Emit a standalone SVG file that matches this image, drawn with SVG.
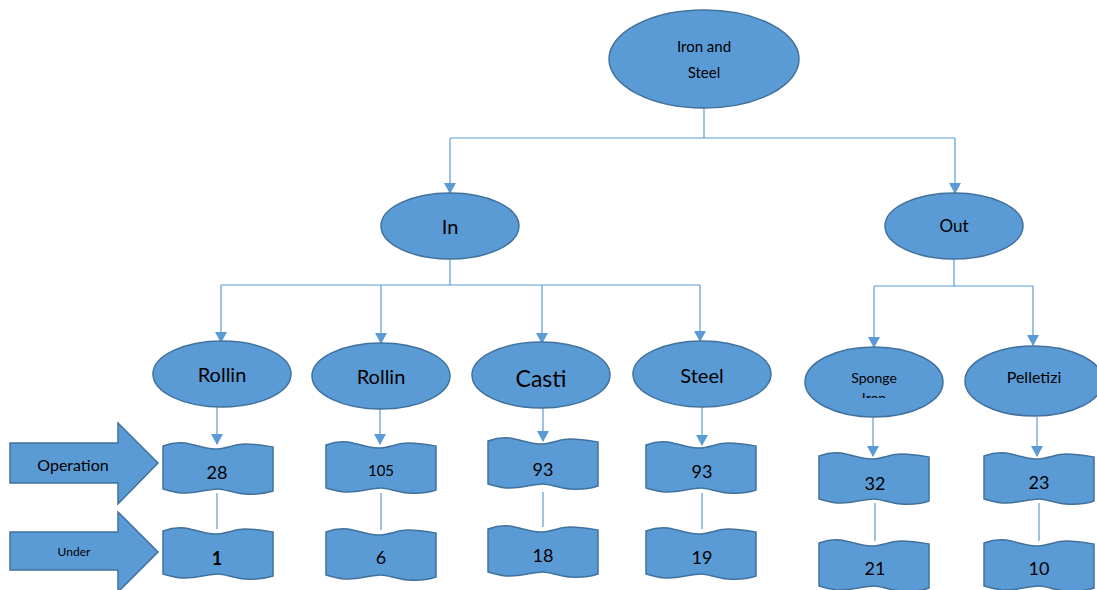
<svg xmlns="http://www.w3.org/2000/svg" width="1097" height="590" viewBox="0 0 1097 590">
<style>
.sh{fill:#5B9BD5;stroke:#41719C;stroke-width:1.5}
.cn{fill:none;stroke:#5B9BD5;stroke-width:1.2}
.t{font-family:Lato,"Open Sans",sans-serif;fill:#000;text-anchor:middle}
</style>
<defs>
<marker id="ah" markerWidth="12" markerHeight="12" refX="10" refY="6" orient="auto" markerUnits="userSpaceOnUse">
<path d="M0,0 L11,6 L0,12 Z" fill="#5B9BD5"/>
</marker>
<symbol id="wave" viewBox="0 0 110 50" width="110" height="50" overflow="visible">
<path class="sh" d="M0,3 C8,0 14,-1 22,0 C34,2 42,6 52,6 C63,6 72,1 82,1 C94,1 104,3 110,4 L110,48 C104,50 96,52 82,51 C70,50 62,46 55,46 C46,46 34,50 22,50 C12,50 5,47 0,46 Z"/>
</symbol>
<clipPath id="spc"><rect x="800" y="340" width="150" height="58"/></clipPath>
</defs>
<rect width="1097" height="590" fill="#fff"/>
<g id="connectors">
<path class="cn" d="M704,108 V138 M450,138 H955"/>
<path class="cn" marker-end="url(#ah)" d="M450,138 V193"/>
<path class="cn" marker-end="url(#ah)" d="M955,138 V193"/>
<path class="cn" d="M450,260 V285 M221,285 H700"/>
<path class="cn" marker-end="url(#ah)" d="M221,285 V342"/>
<path class="cn" marker-end="url(#ah)" d="M381,285 V343"/>
<path class="cn" marker-end="url(#ah)" d="M542,285 V343"/>
<path class="cn" marker-end="url(#ah)" d="M700,285 V341"/>
<path class="cn" d="M954,259 V286 M874,286 H1033"/>
<path class="cn" marker-end="url(#ah)" d="M874,286 V347"/>
<path class="cn" marker-end="url(#ah)" d="M1033,286 V345"/>
<path class="cn" marker-end="url(#ah)" d="M217,407 V444"/>
<path class="cn" marker-end="url(#ah)" d="M380,409 V444"/>
<path class="cn" marker-end="url(#ah)" d="M543,407 V441"/>
<path class="cn" marker-end="url(#ah)" d="M702,407 V445"/>
<path class="cn" marker-end="url(#ah)" d="M873,418 V456"/>
<path class="cn" marker-end="url(#ah)" d="M1037,417 V456"/>
<path class="cn" d="M217,493 V529 M381,493 V530 M543,492 V527 M702,493 V529 M875,503 V541 M1039,503 V541"/>
</g>
<g id="iron-steel"><ellipse class="sh" cx="704" cy="59" rx="95" ry="49"/>
<text class="t" x="704" y="52" font-size="15">Iron and</text><text class="t" x="704" y="78" font-size="15">Steel</text></g>
<g id="in"><ellipse class="sh" cx="450" cy="226" rx="69" ry="33"/><text class="t" x="450" y="234" font-size="20">In</text></g>
<g id="out"><ellipse class="sh" cx="954" cy="226" rx="69" ry="33"/><text class="t" x="954" y="232" font-size="17">Out</text></g>
<g id="rollin1"><ellipse class="sh" cx="222" cy="374" rx="69" ry="33"/><text class="t" x="222" y="382" font-size="20">Rollin</text></g>
<g id="rollin2"><ellipse class="sh" cx="381" cy="376" rx="69" ry="33"/><text class="t" x="381" y="384" font-size="20">Rollin</text></g>
<g id="casti"><ellipse class="sh" cx="541" cy="375" rx="69" ry="33"/><text class="t" x="541" y="387" font-size="23">Casti</text></g>
<g id="steel"><ellipse class="sh" cx="702" cy="374" rx="69" ry="33"/><text class="t" x="702" y="383" font-size="20">Steel</text></g>
<g id="sponge"><ellipse class="sh" cx="874" cy="382" rx="69" ry="35"/>
<g clip-path="url(#spc)"><text class="t" x="874" y="383" font-size="14">Sponge</text><text class="t" x="874" y="403" font-size="14">Iron</text></g></g>
<g id="pelletizi"><ellipse class="sh" cx="1034" cy="381" rx="69" ry="35"/><text class="t" x="1034" y="383" font-size="16">Pelletizi</text></g>
<g id="operation"><polygon class="sh" points="10,443 118,443 118,423 158,463 118,504 118,483 10,483"/><text class="t" x="73" y="471" font-size="16">Operation</text></g>
<g id="under"><polygon class="sh" points="10,532 118,532 118,512 158,552 118,592 118,570 10,570"/><text class="t" x="74" y="556" font-size="12">Under</text></g>
<g id="b28"><use href="#wave" x="163" y="443"/><text class="t" x="217" y="479" font-size="18">28</text></g>
<g id="b1"><use href="#wave" x="163" y="528"/><text class="t" x="217" y="565" font-size="18" font-weight="bold">1</text></g>
<g id="b105"><use href="#wave" x="326" y="442"/><text class="t" x="381" y="476" font-size="15">105</text></g>
<g id="b6"><use href="#wave" x="326" y="529"/><text class="t" x="381" y="564" font-size="18">6</text></g>
<g id="b93c"><use href="#wave" x="488" y="438"/><text class="t" x="543" y="476" font-size="18">93</text></g>
<g id="b18"><use href="#wave" x="488" y="526"/><text class="t" x="543" y="562" font-size="18">18</text></g>
<g id="b93s"><use href="#wave" x="646" y="442"/><text class="t" x="702" y="478" font-size="18">93</text></g>
<g id="b19"><use href="#wave" x="646" y="528"/><text class="t" x="702" y="564" font-size="18">19</text></g>
<g id="b32"><use href="#wave" x="819" y="453"/><text class="t" x="875" y="490" font-size="18">32</text></g>
<g id="b21"><use href="#wave" x="819" y="540"/><text class="t" x="875" y="575" font-size="18">21</text></g>
<g id="b23"><use href="#wave" x="984" y="453"/><text class="t" x="1039" y="489" font-size="18">23</text></g>
<g id="b10"><use href="#wave" x="984" y="540"/><text class="t" x="1039" y="575" font-size="18">10</text></g>
</svg>
